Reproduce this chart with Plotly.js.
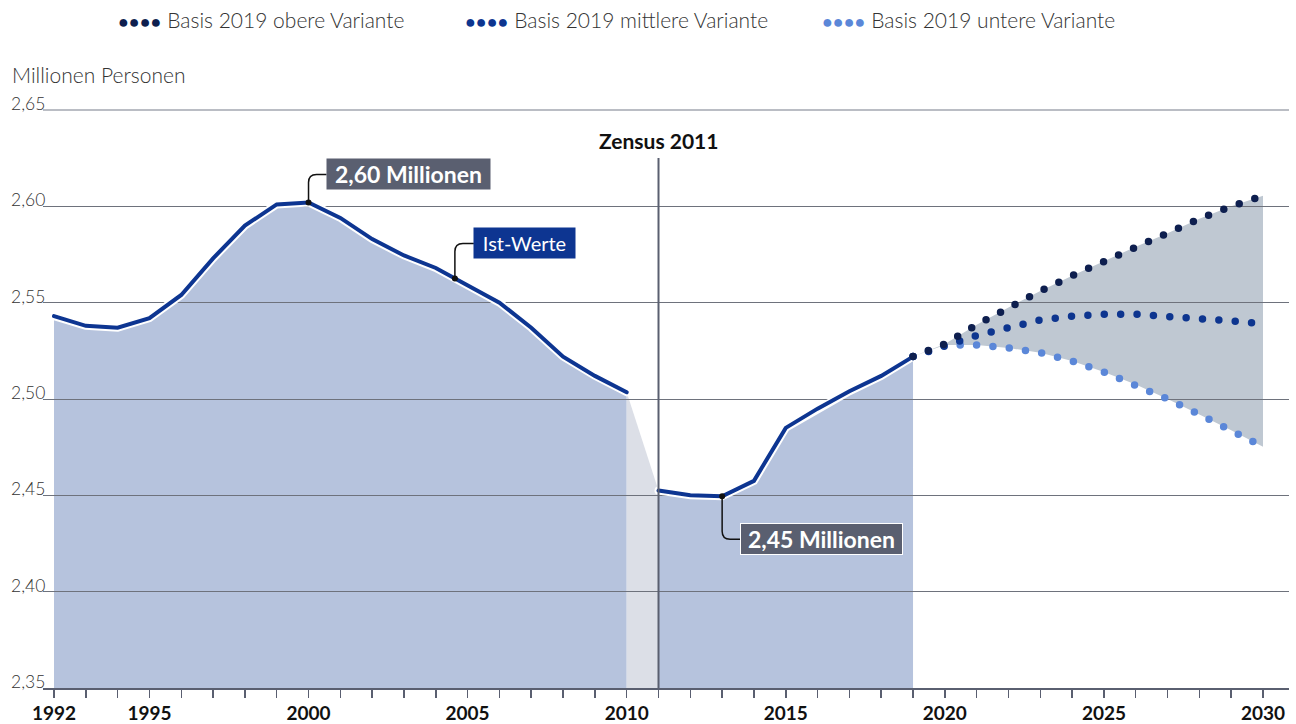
<!DOCTYPE html>
<html><head><meta charset="utf-8">
<script src="https://cdn.plot.ly/plotly-3.0.1.min.js"></script>
<style>
html,body{margin:0;padding:0;background:#fff;}
#chart{width:1296px;height:724px;}
.scatterlayer .js-line{stroke-linecap:round;}
</style></head><body><div id="chart"></div>
<script>
// ---------- data ----------
const years = [1992,1993,1994,1995,1996,1997,1998,1999,2000,2001,2002,2003,2004,2005,2006,2007,2008,2009,2010,2011,2012,2013,2014,2015,2016,2017,2018,2019];
const istWerte = [2.543,2.538,2.537,2.542,2.554,2.573,2.590,2.601,2.602,2.594,2.583,2.5745,2.568,2.559,2.550,2.537,2.522,2.512,2.5035,2.4525,2.450,2.4495,2.4575,2.485,2.495,2.504,2.512,2.522];
const projYears = [2019,2020,2021,2022,2023,2024,2025,2026,2027,2028,2029,2030];
const obereVariante = [2.522,2.5285,2.5385,2.5475,2.556,2.564,2.5715,2.579,2.586,2.5935,2.600,2.6055];
const mittlereVariante = [2.522,2.528,2.533,2.537,2.541,2.543,2.544,2.544,2.543,2.542,2.5405,2.539];
const untereVariante = [2.522,2.528,2.528,2.5265,2.524,2.5197,2.514,2.5075,2.500,2.492,2.4838,2.4752];
const seriesNames = ["Basis 2019 obere Variante","Basis 2019 mittlere Variante","Basis 2019 untere Variante"];
const yTickVals = [2.35,2.40,2.45,2.50,2.55,2.60,2.65];
const yTickLabels = ["2,35","2,40","2,45","2,50","2,55","2,60","2,65"];
const xLabelYears = [1992,1995,2000,2005,2010,2015,2020,2025,2030];
const zensusYear = 2011;
const yUnit = "Millionen Personen";
const labels = {peak:"2,60 Millionen", ist:"Ist-Werte", low:"2,45 Millionen", zensus:"Zensus 2011"};

// ---------- styling ----------
const FONT = "Lato, 'Source Sans Pro', 'Noto Sans', sans-serif";
const C = {ist:"#0d3591", area:"#b6c3dd", gap:"#dcdfe7", band:"#bfc8d2",
           upper:"#0e1f4f", middle:"#0d358f", lower:"#5b87d8", grid:"#6e727c", axis:"#5a5f70", box:"#5a5f70"};
const PLOT_TOP = 109, PLOT_BOTTOM = 688, PLOT_H = PLOT_BOTTOM - PLOT_TOP;
const PLOT_L = 43, PLOT_W = 1246;
const py = px => (PLOT_BOTTOM - px) / PLOT_H;
const pxX = px => (px - PLOT_L) / PLOT_W;

const yMin = 2.35;
const iCut = years.indexOf(2010);
const segA = {x: years.slice(0, iCut+1), y: istWerte.slice(0, iCut+1)};
const segB = {x: years.slice(iCut+1), y: istWerte.slice(iCut+1)};
const gapX = [years[iCut], years[iCut+1]], gapY = [istWerte[iCut], istWerte[iCut+1]];

function areaPath(xs, ys){
  let p = `M${xs[0]},${yMin}`;
  for (let i=0;i<xs.length;i++) p += ` L${xs[i]},${ys[i]}`;
  p += ` L${xs[xs.length-1]},${yMin} Z`;
  return p;
}
function bandPath(xs, up, lo){
  let p = `M${xs[0]},${up[0]}`;
  for (let i=1;i<xs.length;i++) p += ` L${xs[i]},${up[i]}`;
  for (let i=xs.length-1;i>=0;i--) p += ` L${xs[i]},${lo[i]}`;
  return p + ' Z';
}

const dotDash = "0px,16.4px";
const traces = [];
[segA, segB].forEach(s => traces.push({x:s.x, y:s.y, mode:'lines', line:{color:'#ffffff', width:8}, hoverinfo:'skip'}));
[segA, segB].forEach(s => traces.push({x:s.x, y:s.y, mode:'lines', line:{color:C.ist, width:4}, name:'Ist-Werte'}));
traces.push({x:projYears, y:untereVariante, mode:'lines', name:seriesNames[2], line:{color:C.lower, width:7.5, dash:dotDash}});
traces.push({x:projYears, y:mittlereVariante, mode:'lines', name:seriesNames[1], line:{color:C.middle, width:7.5, dash:dotDash}});
traces.push({x:projYears, y:obereVariante, mode:'lines', name:seriesNames[0], line:{color:C.upper, width:7.5, dash:dotDash}});

const iPeak = years.indexOf(2000), iLow = years.indexOf(2013), iI4 = years.indexOf(2004);
const istX = 2004.6;
const istY = istWerte[iI4] + (istX-2004)*(istWerte[iI4+1]-istWerte[iI4]);
const hl = {x:[years[iPeak], istX, years[iLow]], y:[istWerte[iPeak], istY, istWerte[iLow]]};
traces.push({x:hl.x, y:hl.y, mode:'markers', marker:{color:'#111', size:6}, hoverinfo:'skip'});

const allYears = []; for (let y=1992;y<=2030;y++) allYears.push(y);

const shapes = [
  {type:'path', layer:'below', xref:'x', yref:'y', path:areaPath(segA.x, segA.y), fillcolor:C.area, line:{width:0}},
  {type:'path', layer:'below', xref:'x', yref:'y', path:areaPath(gapX, gapY), fillcolor:C.gap, line:{width:0}},
  {type:'path', layer:'below', xref:'x', yref:'y', path:areaPath(segB.x, segB.y), fillcolor:C.area, line:{width:0}},
  {type:'path', layer:'below', xref:'x', yref:'y', path:bandPath(projYears, obereVariante, untereVariante), fillcolor:C.band, line:{width:0}},
  {type:'line', layer:'below', xref:'paper', yref:'y', x0:0, x1:1, y0:yTickVals[yTickVals.length-1], y1:yTickVals[yTickVals.length-1], line:{color:'#a3a7b0', width:1.5}},
  {type:'line', layer:'above', xref:'x', yref:'paper', x0:zensusYear, x1:zensusYear, y0:0, y1:py(158), line:{color:C.axis, width:2}},
  {type:'path', xref:'x', yref:'y', xsizemode:'pixel', ysizemode:'pixel', xanchor:hl.x[0], yanchor:hl.y[0], path:'M0,0 V20 Q0,28 8,28 H18', line:{color:'#111', width:1.5}},
  {type:'path', xref:'x', yref:'y', xsizemode:'pixel', ysizemode:'pixel', xanchor:hl.x[1], yanchor:hl.y[1], path:'M0,0 V27 Q0,35 8,35 H19', line:{color:'#111', width:1.5}},
  {type:'path', xref:'x', yref:'y', xsizemode:'pixel', ysizemode:'pixel', xanchor:hl.x[2], yanchor:hl.y[2], path:'M0,0 V-35 Q0,-43 8,-43 H18', line:{color:'#111', width:1.5}}
];

const annotations = [];
yTickVals.forEach((v,i) => annotations.push({xref:'paper', yref:'y', x:pxX(9), y:v, xanchor:'left', yanchor:'bottom', yshift:-6, showarrow:false, text:yTickLabels[i], font:{family:FONT, size:17.5, color:'#333', weight:300}}));
annotations.push({xref:'paper', yref:'paper', x:pxX(10), y:py(75), xanchor:'left', yanchor:'middle', showarrow:false, text:yUnit, font:{family:FONT, size:21, color:'#333', weight:300}});
annotations.push({xref:'x', yref:'paper', x:zensusYear, y:py(140), xanchor:'center', yanchor:'middle', showarrow:false, text:labels.zensus, font:{family:FONT, size:21, color:'#111', weight:700}});
annotations.push({xref:'x', yref:'y', x:hl.x[0], y:hl.y[0], xanchor:'left', yanchor:'middle', xshift:17.5, yshift:28, showarrow:false, text:labels.peak, bgcolor:C.box, borderpad:3, width:157, height:24, font:{family:FONT, size:23, color:'#fff', weight:700}});
annotations.push({xref:'x', yref:'y', x:hl.x[1], y:hl.y[1], xanchor:'left', yanchor:'middle', xshift:18.5, yshift:35, showarrow:false, text:labels.ist, bgcolor:C.ist, borderpad:3, width:95, height:24, font:{family:FONT, size:20, color:'#fff', weight:400}});
annotations.push({xref:'x', yref:'y', x:hl.x[2], y:hl.y[2], xanchor:'left', yanchor:'middle', xshift:17.5, yshift:-43, showarrow:false, text:labels.low, bgcolor:C.box, bordercolor:'#fff', borderwidth:1, borderpad:3, width:155, height:24, font:{family:FONT, size:23, color:'#fff', weight:700}});
const legendCols = [C.upper, C.middle, C.lower];
const legendX = [pxX(116), pxX(463), pxX(820)];
seriesNames.forEach((n,i) => annotations.push({xref:'paper', yref:'paper', x:legendX[i], y:py(20), xanchor:'left', yanchor:'middle', showarrow:false,
  text:`<span style="color:${legendCols[i]};font-family:'DejaVu Sans';font-size:18px">●●●●</span> ${n}`, font:{family:FONT, size:21, color:'#333', weight:300}}));

const layout = {
  width:1296, height:724, margin:{l:PLOT_L, r:1296-PLOT_L-PLOT_W, t:PLOT_TOP, b:724-PLOT_BOTTOM},
  paper_bgcolor:'#fff', plot_bgcolor:'#fff', showlegend:false,
  xaxis:{range:[1991.654, 2030.817], tickvals:allYears, ticktext:allYears.map(y => xLabelYears.includes(y) ? String(y) : ''),
         ticks:'outside', ticklen:8, tickwidth:1.5, tickcolor:C.axis, showline:true, linecolor:C.axis, linewidth:1.5,
         showgrid:false, zeroline:false, tickfont:{family:FONT, size:19, color:'#111', weight:700}, fixedrange:true},
  yaxis:{range:[2.35, 2.35 + 0.30*PLOT_H/578], tickvals:yTickVals.slice(1), showticklabels:false, ticks:'', showgrid:true, gridcolor:C.grid, gridwidth:1,
         zeroline:false, showline:false, fixedrange:true},
  shapes, annotations, hovermode:false
};
Plotly.newPlot('chart', traces, layout, {displayModeBar:false, staticPlot:true});
</script></body></html>
